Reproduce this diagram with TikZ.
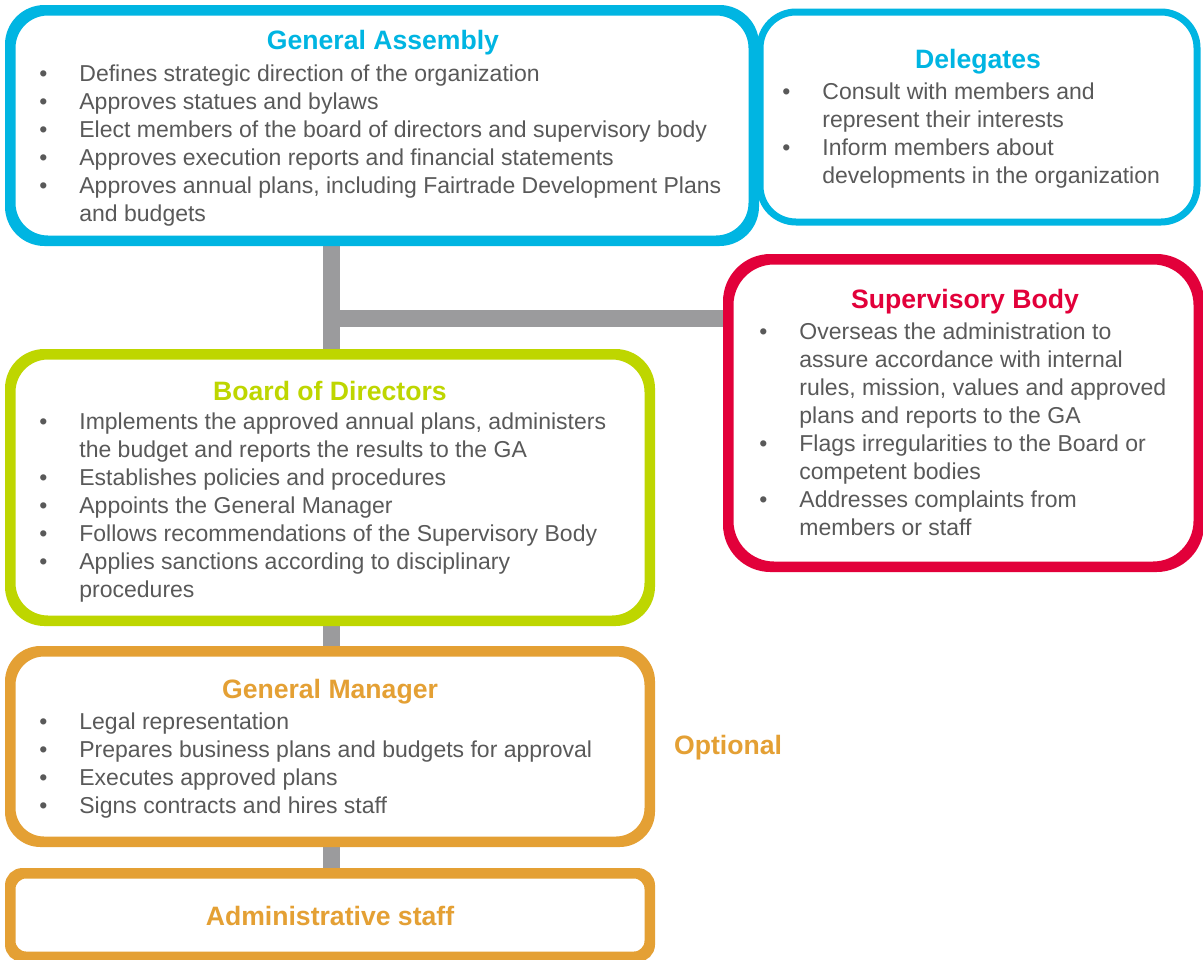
\documentclass[tikz,border=0pt]{standalone}
\usepackage{fontspec}
\setmainfont{Liberation Sans}
\usepackage{xcolor}
\usetikzlibrary{positioning, calc}

\definecolor{gacyan}{RGB}{0,181,226}
\definecolor{supred}{RGB}{226,0,58}
\definecolor{bodlime}{RGB}{190,214,0}
\definecolor{gmorange}{RGB}{228,160,52}
\definecolor{conngray}{RGB}{155,155,157}
\definecolor{txtgray}{RGB}{89,89,89}

\newcommand{\bul}{\makebox[21pt][l]{\hspace{1pt}\textbullet}}
\newcommand{\cnt}{\hspace*{21pt}}

\begin{document}
\begin{tikzpicture}[
    x=0.5pt, y=-0.5pt,
    box/.style={rectangle, line width=3.5pt, fill=white, rounded corners=18pt, inner sep=0pt},
    ttl/.style={font=\fontsize{13.3}{15}\selectfont\bfseries, inner sep=0pt},
    body/.style={anchor=north west, inner sep=0pt, align=left, text=txtgray, font=\fontsize{11.5}{14}\selectfont},
    conn/.style={line width=8.5pt, draw=conngray}
]
\useasboundingbox[fill=white] (0,0) rectangle (1203,959);

\coordinate (trunk) at (331,318);

% Boxes
\node[box, draw=gacyan, minimum width=370pt, minimum height=113.5pt] (ga) at (382,125.5) {};
\node[box, draw=gacyan, minimum width=218.5pt, minimum height=105pt] (del) at (978.5,117) {};
\node[box, draw=supred, minimum width=233.5pt, minimum height=152pt, rounded corners=22pt] (sup) at (963.5,413) {};
\node[box, draw=bodlime, minimum width=318pt, minimum height=131.5pt] (bod) at (330,487.5) {};
\node[box, draw=gmorange, minimum width=318pt, minimum height=93.5pt, rounded corners=16pt] (gm) at (330,746.5) {};
\node[box, draw=gmorange, minimum width=318pt, minimum height=40pt, rounded corners=7pt] (adm) at (330,915) {};

% Connectors
\draw[conn] (trunk |- ga.south) -- (trunk |- bod.north);
\draw[conn] (trunk) -- (trunk -| sup.west);
\draw[conn] (trunk |- bod.south) -- (trunk |- gm.north);
\draw[conn] (trunk |- gm.south) -- (trunk |- adm.north);

% Redraw borders over connector ends
\draw[line width=3.5pt, draw=gacyan, rounded corners=18pt] (ga.north west) rectangle (ga.south east);
\draw[line width=3.5pt, draw=supred, rounded corners=22pt] (sup.north west) rectangle (sup.south east);
\draw[line width=3.5pt, draw=bodlime, rounded corners=18pt] (bod.north west) rectangle (bod.south east);
\draw[line width=3.5pt, draw=gmorange, rounded corners=16pt] (gm.north west) rectangle (gm.south east);
\draw[line width=3.5pt, draw=gmorange, rounded corners=7pt] (adm.north west) rectangle (adm.south east);

% Titles
\node[ttl, text=gacyan] (gattl) at (383,43) {General Assembly};
\node[ttl, text=gacyan] (delttl) at (978,62) {Delegates};
\node[ttl, text=supred] (supttl) at (965,302) {Supervisory Body};
\node[ttl, text=bodlime] (bodttl) at (330,391) {Board of Directors};
\node[ttl, text=gmorange] (gmttl) at (330,692) {General Manager};
\node[ttl, text=gmorange] (admttl) at (330,916) {Administrative staff};
\node[ttl, text=gmorange] (opt) at (728,748) {Optional};

% Bullet lists
\node[body] (gatxt) at (37,64) {%
  \bul Defines strategic direction of the organization\\
  \bul Approves statues and bylaws\\
  \bul Elect members of the board of directors and supervisory body\\
  \bul Approves execution reports and financial statements\\
  \bul Approves annual plans, including Fairtrade Development Plans\\
  \cnt and budgets};
\node[body] (deltxt) at (780,82) {%
  \bul Consult with members and\\
  \cnt represent their interests\\
  \bul Inform members about\\
  \cnt developments in the organization};
\node[body] (suptxt) at (757,322) {%
  \bul Overseas the administration to\\
  \cnt assure accordance with internal\\
  \cnt rules, mission, values and approved\\
  \cnt plans and reports to the GA\\
  \bul Flags irregularities to the Board or\\
  \cnt competent bodies\\
  \bul Addresses complaints from\\
  \cnt members or staff};
\node[body] (bodtxt) at (37,412) {%
  \bul Implements the approved annual plans, administers\\
  \cnt the budget and reports the results to the GA\\
  \bul Establishes policies and procedures\\
  \bul Appoints the General Manager\\
  \bul Follows recommendations of the Supervisory Body\\
  \bul Applies sanctions according to disciplinary\\
  \cnt procedures};
\node[body] (gmtxt) at (37,712) {%
  \bul Legal representation\\
  \bul Prepares business plans and budgets for approval\\
  \bul Executes approved plans\\
  \bul Signs contracts and hires staff};

\end{tikzpicture}
\end{document}
